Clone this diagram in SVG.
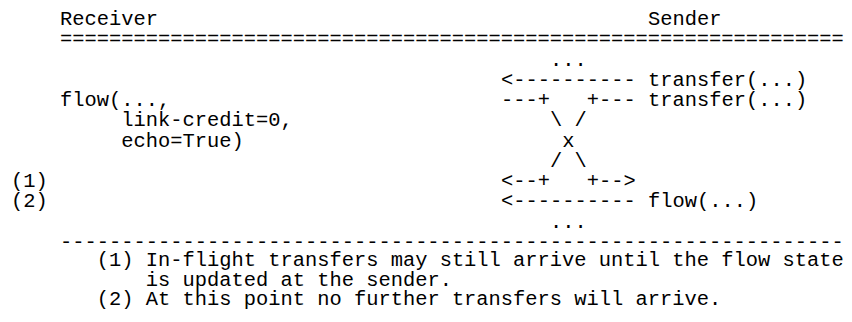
<svg xmlns="http://www.w3.org/2000/svg" width="852" height="322" viewBox="0 0 852 322">
<style>
.t{font-family:"Liberation Mono","DejaVu Sans Mono",monospace;font-size:20.42px;fill:#000;white-space:pre}
</style>
<rect x="0" y="0" width="852" height="322" fill="#fff"/>
<g id="headers">
<text class="t" x="60" y="25">Receiver</text>
<text class="t" x="648" y="25">Sender</text>
<text class="t" x="60" y="45.25">================================================================</text>
</g>
<g id="receiver">
<text class="t" x="60" y="106">flow(...,</text>
<text class="t" x="121.25" y="126.25">link-credit=0,</text>
<text class="t" x="121.25" y="146.5">echo=True)</text>
<text class="t" x="11" y="187">(1)</text>
<text class="t" x="11" y="207.25">(2)</text>
</g>
<g id="sender">
<text class="t" x="648" y="85.75">transfer(...)</text>
<text class="t" x="648" y="106">transfer(...)</text>
<text class="t" x="648" y="207.25">flow(...)</text>
</g>
<g id="connectors">
<text class="t" x="550" y="65.5">...</text>
<text class="t" x="501" y="85.75">&lt;----------</text>
<text class="t" x="501" y="106" xml:space="preserve">---+   +---</text>
<text class="t" x="550" y="126.25" xml:space="preserve">\ /</text>
<text class="t" x="562.25" y="146.5">x</text>
<text class="t" x="550" y="166.75" xml:space="preserve">/ \</text>
<text class="t" x="501" y="187" xml:space="preserve">&lt;--+   +--&gt;</text>
<text class="t" x="501" y="207.25">&lt;----------</text>
<text class="t" x="550" y="227.5">...</text>
</g>
<g id="notes">
<text class="t" x="60" y="247.75">----------------------------------------------------------------</text>
<text class="t" x="96.75" y="266">(1) In-flight transfers may still arrive until the flow state</text>
<text class="t" x="145.75" y="285.5">is updated at the sender.</text>
<text class="t" x="96.75" y="305">(2) At this point no further transfers will arrive.</text>
</g>
</svg>
